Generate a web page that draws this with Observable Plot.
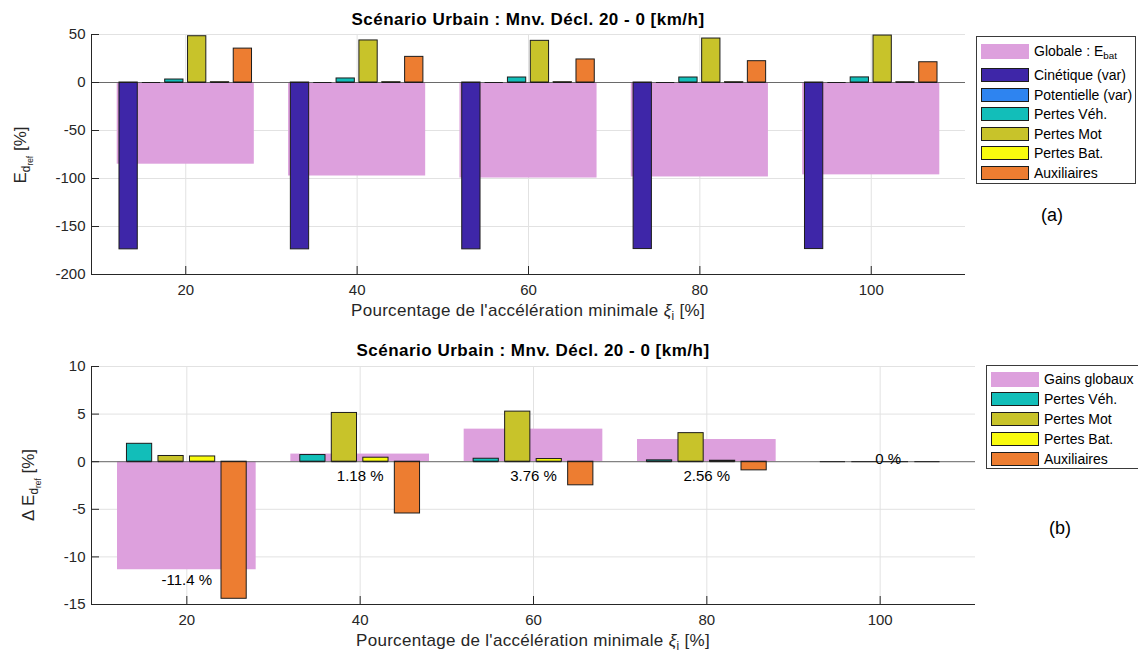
<!DOCTYPE html>
<html><head><meta charset="utf-8">
<script src="https://cdn.jsdelivr.net/npm/d3@7"></script>
<script src="https://cdn.jsdelivr.net/npm/@observablehq/plot@0.6"></script>
<style>
html,body{margin:0;padding:0;background:#fff}
#wrap{position:relative;width:1138px;height:654px;overflow:hidden;font-family:"Liberation Sans",Arial,Helvetica,sans-serif;color:#262626}
.abs{position:absolute;white-space:nowrap}
.title{font-weight:bold;font-size:17px;letter-spacing:0.5px;color:#000;transform:translateX(-50%);line-height:20px}
.xlab{font-size:17px;letter-spacing:0.3px;transform:translateX(-50%);line-height:20px;color:#262626}
.ylab{font-size:17px;transform:translate(-50%,-50%) rotate(-90deg);line-height:20px;color:#262626}
.legend{position:absolute;border:1px solid #3a3a3a;background:#fff;box-sizing:border-box}
.lrow{position:absolute;left:0;display:flex;align-items:center;font-size:14px;color:#000;white-space:nowrap;height:20px}
.sw{width:48px;height:14px;box-sizing:border-box;margin-left:4px;margin-right:5px;flex:none}
sub{font-size:70%;vertical-align:-0.35em;line-height:0}
.panel{font-size:18px;color:#000;transform:translate(-50%,-50%)}
</style></head>
<body><div id="wrap"></div>
<script>
// ---------- data ----------
const groups = [20, 40, 60, 80, 100];
const xTicks = [20, 40, 60, 80, 100];
const xDomain = [9, 111];

// top panel (a)
const topSeries = ["Cinétique (var)", "Potentielle (var)", "Pertes Véh.", "Pertes Mot", "Pertes Bat.", "Auxiliaires"];
const globale     = [-85.1, -97.4, -99.5, -98.4, -96.2];
const cinetique   = [-173.8, -173.8, -173.8, -173.5, -173.5];
const potentielle = [0, 0, 0, 0, 0];
const pertesVeh   = [3.1, 4.2, 5.2, 5.2, 5.3];
const pertesMot   = [48.2, 43.8, 43.4, 45.8, 48.9];
const pertesBat   = [0.3, 0.3, 0.3, 0.3, 0.3];
const auxiliaires = [35.3, 26.7, 24.0, 22.2, 21.1];
const yTicksTop = [-200, -150, -100, -50, 0, 50];
const yDomainTop = [-200, 50];

// bottom panel (b)
const botSeries = ["Pertes Véh.", "Pertes Mot", "Pertes Bat.", "Auxiliaires"];
const gains     = [-11.35, 0.8, 3.42, 2.33, 0];
const gainLabels = ["-11.4 %", "1.18 %", "3.76 %", "2.56 %", "0 %"];
const dVeh = [1.88, 0.7, 0.31, 0.14, 0];
const dMot = [0.6, 5.12, 5.26, 3.0, 0];
const dBat = [0.55, 0.42, 0.28, 0.1, 0];
const dAux = [-14.4, -5.44, -2.48, -0.91, 0];
const yTicksBot = [-15, -10, -5, 0, 5, 10];
const yDomainBot = [-15, 10];

// ---------- styles ----------
const palette = {
  "Cinétique (var)": "#3e26a8",
  "Potentielle (var)": "#2e84f0",
  "Pertes Véh.": "#12beb9",
  "Pertes Mot": "#c8c32a",
  "Pertes Bat.": "#f9fb0e",
  "Auxiliaires": "#ed7d31"
};
const pink = "#dda0dd";
const gridColor = "#e2e2e2";
const axisColor = "#262626";
const edge = "#1c1c1c";
const W = 1138;
const fontFamily = '"Liberation Sans", Arial, Helvetica, sans-serif';

function makeBars(series, values, gw) {
  const n = series.length, step = gw / n, half = step * 0.4;
  const rows = [];
  groups.forEach((g, j) => series.forEach((s, i) => {
    const c = g - gw / 2 + (i + 0.5) * step;
    rows.push({series: s, x1: c - half, x2: c + half, v: values[i][j]});
  }));
  return rows;
}
function wideBars(values, gw) {
  return groups.map((g, j) => ({x1: g - gw / 2, x2: g + gw / 2, v: values[j]}));
}

function panel({H, m, yTicks, yDomain, rows, wide, series, extra}) {
  const pw = W - m.l - m.r, ph = H - m.t - m.b;
  return Plot.plot({
    width: W, height: H,
    marginLeft: m.l, marginRight: m.r, marginTop: m.t, marginBottom: m.b,
    x: {domain: xDomain},
    y: {domain: yDomain},
    color: {domain: series, range: series.map(s => palette[s])},
    style: {fontFamily, fontSize: "15px", color: axisColor, background: "transparent", overflow: "visible"},
    marks: [
      Plot.ruleX(xTicks, {stroke: gridColor}),
      Plot.ruleY(yTicks, {stroke: gridColor}),
      Plot.rect(wide, {x1: "x1", x2: "x2", y1: 0, y2: "v", fill: pink}),
      Plot.ruleY([0], {stroke: "#6a6a6a"}),
      Plot.rect(rows, {x1: "x1", x2: "x2", y1: 0, y2: "v", fill: "series", stroke: edge, strokeWidth: 1}),
      Plot.ruleY(rows, {y: 0, x1: "x1", x2: "x2", stroke: edge}),
      ...(extra || []),
      Plot.ruleX([xDomain[0]], {stroke: axisColor}),
      Plot.ruleY([yDomain[0]], {stroke: axisColor}),
      Plot.tickY(yTicks, {y: d => d, insetRight: pw - 8, stroke: axisColor}),
      Plot.tickX(xTicks, {x: d => d, insetTop: ph - 8, stroke: axisColor}),
      Plot.axisY(yTicks, {tickSize: 0, tickPadding: 6, tickFormat: d => String(d), label: null, fill: axisColor}),
      Plot.axisX(xTicks, {tickSize: 0, tickPadding: 10, tickFormat: d => String(d), label: null, fill: axisColor})
    ]
  });
}

const wrap = document.getElementById("wrap");

// top chart
const topRows = makeBars(topSeries, [cinetique, potentielle, pertesVeh, pertesMot, pertesBat, auxiliaires], 16);
const svg1 = panel({
  H: 327, m: {l: 91, r: 173, t: 34, b: 53},
  yTicks: yTicksTop, yDomain: yDomainTop,
  rows: topRows, wide: wideBars(globale, 16), series: topSeries
});
svg1.style.position = "absolute"; svg1.style.left = "0px"; svg1.style.top = "0px";
wrap.appendChild(svg1);

// bottom chart
const botRows = makeBars(botSeries, [dVeh, dMot, dBat, dAux], 20 * 4 / 5.5);
const gainRows = groups.map((g, i) => ({g, gain: gains[i], label: gainLabels[i]}));
const svg2 = panel({
  H: 327, m: {l: 91, r: 163, t: 39, b: 50},
  yTicks: yTicksBot, yDomain: yDomainBot,
  rows: botRows, wide: wideBars(gains, 16), series: botSeries,
  extra: [
    Plot.text(gainRows.filter(d => d.gain < 0), {x: "g", y: "gain", text: "label", lineAnchor: "top", dy: 5, fontSize: 15, fill: "#000"}),
    Plot.text(gainRows.filter(d => d.gain > 0), {x: "g", y: 0, text: "label", lineAnchor: "top", dy: 9, fontSize: 15, fill: "#000"}),
    Plot.text(gainRows.filter(d => d.gain === 0), {x: "g", y: 0, text: "label", dx: 8, dy: -3, fontSize: 15, fill: "#000"})
  ]
});
svg2.style.position = "absolute"; svg2.style.left = "0px"; svg2.style.top = "327px";
wrap.appendChild(svg2);

// ---------- HTML text overlays ----------
function addDiv(cls, html, left, top) {
  const d = document.createElement("div");
  d.className = "abs " + cls;
  d.innerHTML = html;
  d.style.left = left + "px"; d.style.top = top + "px";
  wrap.appendChild(d);
  return d;
}
const titleText = "Scénario Urbain : Mnv. Décl. 20 - 0 [km/h]";
addDiv("title", titleText, 528, 10);
addDiv("title", titleText, 533, 341);
const xlabHtml = "Pourcentage de l'accélération minimale <i>ξ</i><sub>i</sub> [%]";
addDiv("xlab", xlabHtml, 528, 301);
addDiv("xlab", xlabHtml, 533, 631);
addDiv("ylab", "E<sub>d<sub>ref</sub></sub> [%]", 21, 155);
addDiv("ylab", "Δ E<sub>d<sub>ref</sub></sub> [%]", 29, 485);
addDiv("panel", "(a)", 1052, 215);
addDiv("panel", "(b)", 1060, 528);

// legends
function legend(left, top, width, height, entries, rowCenters) {
  const box = document.createElement("div");
  box.className = "legend";
  Object.assign(box.style, {left: left + "px", top: top + "px", width: width + "px", height: height + "px"});
  entries.forEach((e, i) => {
    const row = document.createElement("div");
    row.className = "lrow";
    row.style.top = (rowCenters[i] - top - 10) + "px";
    const sw = document.createElement("div");
    sw.className = "sw";
    sw.style.background = e.color;
    if (e.border) sw.style.border = "1px solid " + edge;
    else sw.style.height = "15px";
    const t = document.createElement("span");
    t.innerHTML = e.label;
    row.appendChild(sw); row.appendChild(t);
    box.appendChild(row);
  });
  wrap.appendChild(box);
}
legend(976, 36, 160, 148,
  [{label: "Globale : E<sub>bat</sub>", color: pink, border: false},
   ...topSeries.map(s => ({label: s, color: palette[s], border: true}))],
  [50, 73.7, 93.7, 113, 133, 152.3, 171.7]);
legend(986, 365, 156, 104,
  [{label: "Gains globaux", color: pink, border: false},
   ...botSeries.map(s => ({label: s, color: palette[s], border: true}))],
  [378.3, 397.7, 418.3, 437.7, 457.7]);
</script>
</body></html>
